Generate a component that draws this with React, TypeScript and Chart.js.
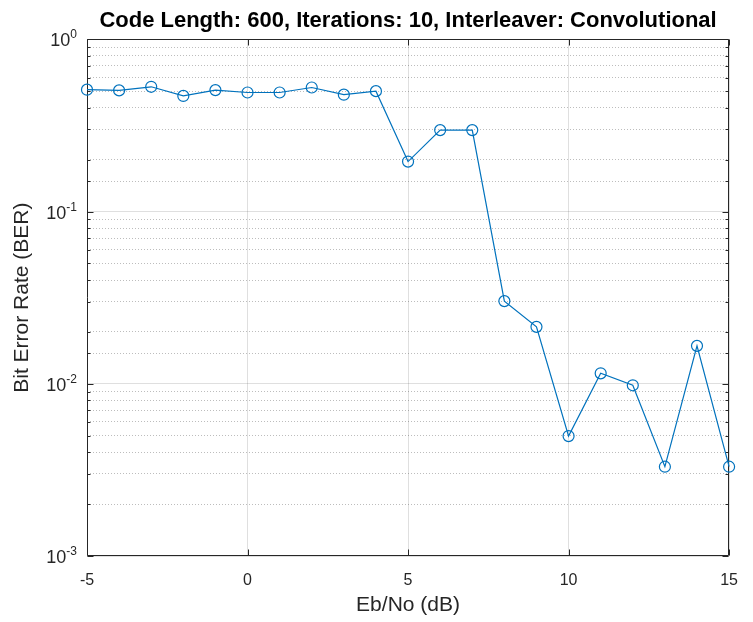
import React, { useEffect, useRef } from "react";
import { Chart, registerables } from "chart.js";

Chart.register(...registerables);

// Eb/No sweep (dB) and measured bit error rate
const EBNO_DB = [-5, -4, -3, -2, -1, 0, 1, 2, 3, 4, 5, 6, 7, 8, 9, 10, 11, 12, 13, 14, 15];
const BER = [
  0.51, 0.505, 0.53, 0.469, 0.507, 0.491, 0.491, 0.525, 0.477, 0.5,
  0.195, 0.297, 0.297, 0.0302, 0.0214, 0.00497, 0.0115, 0.0098, 0.0033, 0.0166, 0.0033,
];

// Axis ranges and labelled decades
const X_MIN = -5;
const X_MAX = 15;
const X_STEP = 5;
const Y_MIN = 1e-3;
const Y_MAX = 1;
const Y_DECADES = [1, 0.1, 0.01, 0.001];
const Y_EXPONENTS = ["0", "-1", "-2", "-3"];

const TITLE = "Code Length: 600, Iterations: 10, Interleaver: Convolutional";
const X_LABEL = "Eb/No (dB)";
const Y_LABEL = "Bit Error Rate (BER)";

const FONT = '"Liberation Sans", Arial, Helvetica, sans-serif';
const AXIS_COLOR = "#262626";
const LINE_COLOR = "#0072BD";

const isDecade = (v: number) => {
  const l = Math.log10(v);
  return Math.abs(l - Math.round(l)) < 1e-6;
};

// Axes box, inward tick marks and the power-of-ten labels on the y axis
const axesDecor = {
  id: "axesDecor",
  beforeDatasetsDraw(chart: any) {
    const { ctx, chartArea: a, scales } = chart;
    const xs = scales.x;
    const ys = scales.y;
    ctx.save();
    ctx.strokeStyle = AXIS_COLOR;
    ctx.lineWidth = 1;
    const L = Math.round(a.left) + 0.5;
    const R = Math.round(a.right) - 0.5;
    const T = Math.round(a.top) + 0.5;
    const B = Math.round(a.bottom) - 0.5;
    ctx.beginPath();
    ctx.rect(L, T, R - L, B - T);
    ctx.stroke();

    ctx.beginPath();
    xs.ticks.forEach((t: any) => {
      const px = Math.round(xs.getPixelForValue(t.value)) + 0.5;
      ctx.moveTo(px, B);
      ctx.lineTo(px, B - 6);
      ctx.moveTo(px, T);
      ctx.lineTo(px, T + 6);
    });
    ys.ticks.forEach((t: any) => {
      const py = Math.round(ys.getPixelForValue(t.value)) + 0.5;
      const len = isDecade(t.value) ? 6 : 3;
      ctx.moveTo(L, py);
      ctx.lineTo(L + len, py);
      ctx.moveTo(R, py);
      ctx.lineTo(R - len, py);
    });
    ctx.stroke();
    ctx.restore();
  },
  afterDraw(chart: any) {
    const { ctx, chartArea: a, scales } = chart;
    const ys = scales.y;
    ctx.save();
    ctx.fillStyle = AXIS_COLOR;
    ctx.textBaseline = "alphabetic";
    const right = a.left - 10;
    Y_DECADES.forEach((v, i) => {
      const py = ys.getPixelForValue(v);
      ctx.font = `12px ${FONT}`;
      const ew = ctx.measureText(Y_EXPONENTS[i]).width;
      ctx.textAlign = "left";
      ctx.fillText(Y_EXPONENTS[i], right - ew, py - 1);
      ctx.font = `18px ${FONT}`;
      ctx.textAlign = "right";
      ctx.fillText("10", right - ew, py + 7);
    });
    ctx.restore();
  },
};

export default function App() {
  const canvasRef = useRef<HTMLCanvasElement | null>(null);

  useEffect(() => {
    if (!canvasRef.current) return;
    const chart = new Chart(canvasRef.current, {
      type: "line",
      data: {
        datasets: [
          {
            label: "BER",
            data: EBNO_DB.map((x, i) => ({ x, y: BER[i] })),
            borderColor: LINE_COLOR,
            borderWidth: 1.2,
            pointRadius: 5.5,
            pointHoverRadius: 5.5,
            pointBorderColor: LINE_COLOR,
            pointBorderWidth: 1.2,
            pointBackgroundColor: "rgba(0,0,0,0)",
            tension: 0,
            clip: false,
          } as any,
        ],
      },
      plugins: [axesDecor],
      options: {
        animation: false,
        responsive: false,
        maintainAspectRatio: false,
        events: [],
        layout: { padding: { top: 0, right: 12, left: 0, bottom: 0 } },
        plugins: {
          legend: { display: false },
          tooltip: { enabled: false },
          title: {
            display: true,
            fullSize: false,
            text: TITLE,
            color: "#000000",
            font: { family: FONT, size: 22, weight: "bold" },
            padding: { top: 8, bottom: 4.9 },
          },
        },
        scales: {
          x: {
            type: "linear",
            min: X_MIN,
            max: X_MAX,
            ticks: {
              stepSize: X_STEP,
              color: AXIS_COLOR,
              font: { family: FONT, size: 16 },
              padding: 15,
              maxRotation: 0,
            },
            grid: {
              color: "rgba(38,38,38,0.15)",
              lineWidth: 1,
              drawTicks: false,
            },
            border: { display: false },
            title: {
              display: true,
              text: X_LABEL,
              color: AXIS_COLOR,
              font: { family: FONT, size: 21 },
              padding: { top: 2, bottom: 4 },
            },
            afterFit: (s: any) => {
              s.height = 66;
            },
          },
          y: {
            type: "logarithmic",
            min: Y_MIN,
            max: Y_MAX,
            ticks: {
              display: false,
              autoSkip: false,
            },
            grid: {
              color: (c: any) =>
                c.tick && isDecade(c.tick.value) ? "rgba(38,38,38,0.15)" : "rgba(38,38,38,0.3)",
              lineWidth: 1,
              drawTicks: false,
            },
            border: {
              display: false,
              dash: (c: any) => (c.tick && !isDecade(c.tick.value) ? [1, 2] : []),
            } as any,
            title: {
              display: true,
              text: Y_LABEL,
              color: AXIS_COLOR,
              font: { family: FONT, size: 21 },
              padding: { top: 9.5, bottom: 0 },
            },
            afterFit: (s: any) => {
              s.width = 87;
            },
          },
        },
      },
    });
    return () => chart.destroy();
  }, []);

  return (
    <div style={{ position: "absolute", left: 0, top: 0, width: 753, height: 622, background: "#ffffff" }}>
      <canvas ref={canvasRef} width={753} height={622} style={{ width: 753, height: 622, display: "block" }} />
    </div>
  );
}
